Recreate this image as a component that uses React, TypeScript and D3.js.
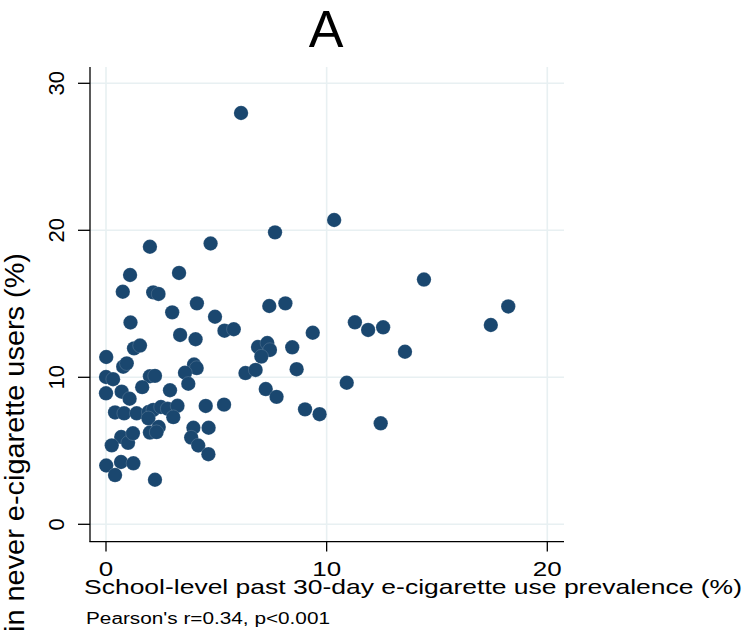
import React from "react";
import * as d3 from "d3";

const prevalence = [
  6.12, 10.34, 7.66, 4.74, 1.99, 1.09, 3.31, 14.41, 0.76, 2.14,
  2.38, 4.12, 8.13, 7.40, 18.23, 3.00, 4.94, 1.11, 11.28, 12.56,
  11.88, 17.44, 5.37, 5.79, 9.37, 3.36, 4.06, 1.27, 1.54, 6.89,
  7.31, 7.43, 8.44, 13.55, 0.01, 7.04, 0.78, 0.94, 3.99, 4.11,
  3.58, 6.32, 6.78, 8.64, 0.0, 0.32, 1.99, 2.22, 10.91, 3.73,
  1.64, 2.90, 7.24, 0.0, 0.71, 1.07, 7.73, 4.52, 5.35, 9.02,
  9.68, 0.41, 0.82, 1.39, 1.93, 2.14, 2.49, 2.79, 3.24, 3.05,
  1.92, 12.45, 3.96, 4.65, 3.86, 4.18, 4.64, 1.99, 2.39, 2.29,
  0.69, 1.0, 1.22, 0.26, 0.01, 0.68, 1.24, 0.41, 2.22,
];
const susceptibility = [
  27.98, 20.70, 19.86, 19.10, 18.88, 16.96, 17.10, 16.65, 15.82, 15.78,
  15.67, 15.03, 15.03, 14.85, 14.82, 14.42, 14.12, 13.73, 13.74, 13.40,
  13.22, 13.56, 13.17, 13.27, 13.03, 12.88, 12.59, 11.97, 12.16, 12.06,
  12.33, 11.86, 12.04, 11.74, 11.38, 11.41, 10.72, 10.95, 10.87, 10.63,
  10.31, 10.29, 10.50, 10.55, 10.02, 9.87, 10.07, 10.10, 9.63, 9.56,
  9.33, 9.12, 9.20, 8.91, 9.02, 8.54, 8.67, 8.05, 8.14, 7.82,
  7.49, 7.61, 7.55, 7.55, 7.64, 7.78, 7.98, 7.86, 8.06, 7.29,
  7.21, 6.87, 6.57, 6.57, 5.90, 5.36, 4.77, 6.24, 6.62, 6.27,
  5.94, 5.54, 6.19, 5.37, 4.00, 4.24, 4.15, 3.35, 3.03,
];
const xTicks = [0, 10, 20];
const yTicks = [0, 10, 20, 30];
const title = "A";
const xLabel = "School-level past 30-day e-cigarette use prevalence (%)";
const yLabel = "in never e-cigarette users (%)";
const note = "Pearson's r=0.34, p<0.001";

const W = 748;
const H = 634;
const FONT = "'Liberation Sans', Arial, Helvetica, sans-serif";
const MARK = "#1a476f";
const GRID = "#e8f0f2";

export default function App() {
  const x = d3.scaleLinear().domain([0, 20]).range([106, 547.3]);
  const y = d3.scaleLinear().domain([0, 30]).range([524.3, 83.3]);
  const axisX = 90;
  const axisY = 541.7;
  const plotTop = 67;
  const plotRight = 564;

  return (
    <svg
      width={W}
      height={H}
      style={{ position: "absolute", left: 0, top: 0, background: "#fff" }}
      fontFamily={FONT}
    >
      <rect x={0} y={0} width={W} height={H} fill="#fff" />
      {/* gridlines */}
      {yTicks.map((t) => (
        <line key={"gy" + t} x1={axisX} x2={plotRight} y1={y(t)} y2={y(t)} stroke={GRID} strokeWidth={1.6} />
      ))}
      {xTicks.map((t) => (
        <line key={"gx" + t} x1={x(t)} x2={x(t)} y1={plotTop} y2={axisY} stroke={GRID} strokeWidth={1.6} />
      ))}
      {/* points */}
      {prevalence.map((v, i) => (
        <circle key={i} cx={x(v)} cy={y(susceptibility[i])} r={7.2} fill={MARK} stroke="#ffffff" strokeOpacity={0.25} strokeWidth={0.6} />
      ))}
      {/* axes */}
      <line x1={axisX} x2={axisX} y1={plotTop} y2={axisY} stroke="#000" strokeWidth={1.3} />
      <line x1={axisX - 0.6} x2={plotRight} y1={axisY} y2={axisY} stroke="#000" strokeWidth={1.3} />
      {yTicks.map((t) => (
        <g key={"ty" + t}>
          <line x1={78} x2={axisX} y1={y(t)} y2={y(t)} stroke="#000" strokeWidth={1.3} />
          <text
            transform={`translate(63.5,${y(t)}) rotate(-90)`}
            textAnchor="middle"
            fontSize={22}
            fill="#000"
          >
            {t}
          </text>
        </g>
      ))}
      {xTicks.map((t) => (
        <g key={"tx" + t}>
          <line x1={x(t)} x2={x(t)} y1={axisY} y2={551.5} stroke="#000" strokeWidth={1.3} />
          <text
            transform={`translate(${x(t)},576) scale(1.3,1)`}
            textAnchor="middle"
            fontSize={20}
            fill="#000"
          >
            {t}
          </text>
        </g>
      ))}
      {/* title */}
      <text x={326} y={47} textAnchor="middle" fontSize={52} fill="#000">
        {title}
      </text>
      {/* x label */}
      <text x={84} y={594} fontSize={21} textLength={658} lengthAdjust="spacingAndGlyphs" fill="#000">
        {xLabel}
      </text>
      {/* note */}
      <text x={86} y={624} fontSize={16} textLength={244} lengthAdjust="spacingAndGlyphs" fill="#000">
        {note}
      </text>
      {/* y label */}
      <g transform="translate(24,632) scale(1.25,1) rotate(-90)">
        <text x={0} y={0} fontSize={22} textLength={379} lengthAdjust="spacingAndGlyphs" fill="#000">
          {yLabel}
        </text>
      </g>
    </svg>
  );
}
